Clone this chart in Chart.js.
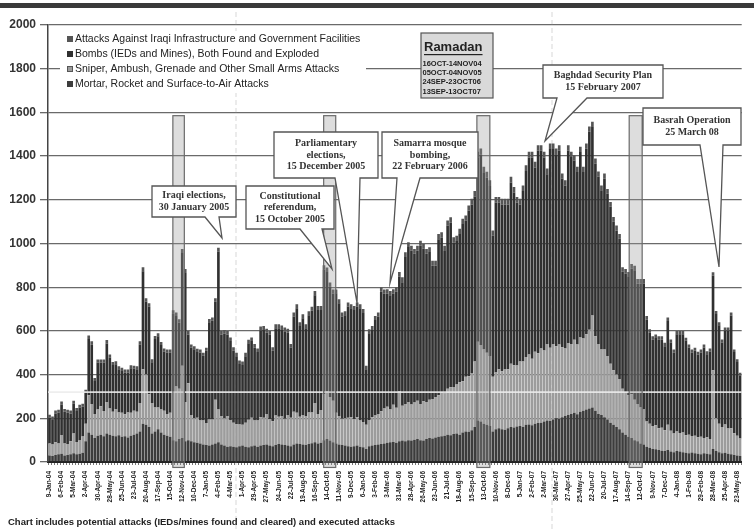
<!DOCTYPE html>
<html>
<head>
<meta charset="utf-8">
<script src="https://cdn.jsdelivr.net/npm/chart.js@4.4.1/dist/chart.umd.min.js"></script>
<style>
  html, body { margin: 0; padding: 0; background: #fff; }
  #wrap { width: 754px; height: 529px; position: relative; }
</style>
</head>
<body>
<div id="wrap"><canvas id="attacks" width="754" height="529"></canvas></div>
<script>
// Etiquetas del eje X (una cada 4 semanas)
const tickLabels = ['9-Jan-04','6-Feb-04','5-Mar-04','2-Apr-04','30-Apr-04','28-May-04','25-Jun-04','23-Jul-04','20-Aug-04','17-Sep-04',
  '15-Oct-04','12-Nov-04','10-Dec-04','7-Jan-05','4-Feb-05','4-Mar-05','1-Apr-05','29-Apr-05','27-May-05','24-Jun-05',
  '22-Jul-05','19-Aug-05','16-Sep-05','14-Oct-05','11-Nov-05','9-Dec-05','6-Jan-06','3-Feb-06','3-Mar-06','31-Mar-06',
  '28-Apr-06','26-May-06','23-Jun-06','21-Jul-06','18-Aug-06','15-Sep-06','13-Oct-06','10-Nov-06','8-Dec-06','5-Jan-07',
  '2-Feb-07','2-Mar-07','30-Mar-07','27-Apr-07','25-May-07','22-Jun-07','20-Jul-07','17-Aug-07','14-Sep-07','12-Oct-07',
  '9-Nov-07','7-Dec-07','4-Jan-08','1-Feb-08','29-Feb-08','28-Mar-08','25-Apr-08','23-May-08'];

const yTicks = [0, 200, 400, 600, 800, 1000, 1200, 1400, 1600, 1800, 2000];

// Ataques semanales por tipo (apilados de abajo hacia arriba)
const mortar = [
  30,28,32,35,38,30,32,35,40,36,  38,42,95,135,125,110,120,125,118,130,
  125,120,118,122,115,118,112,120,125,130,  140,175,170,160,130,140,150,135,125,120,
  115,100,95,105,110,95,100,95,90,88,  85,80,78,75,80,85,90,80,75,70,
  72,70,68,72,75,70,68,72,75,70,  75,78,80,76,72,78,82,80,78,75,
  72,80,85,82,80,78,82,86,90,85,  88,100,105,98,90,85,80,78,75,72,
  70,72,75,70,68,60,72,75,78,80,  82,85,88,90,92,88,95,98,95,100,
  98,102,105,100,98,105,110,108,112,115,  118,120,125,122,128,130,125,135,140,138,
  145,160,190,185,175,170,165,140,150,155,  150,148,155,160,158,162,165,160,170,172,
  168,175,178,180,185,190,188,195,200,198,  205,210,215,220,225,218,230,235,240,245,
  250,235,220,215,205,195,180,170,160,150,  135,125,115,110,100,95,85,80,70,65,
  60,58,55,52,50,55,48,45,50,48,  45,42,40,44,40,38,36,40,38,35,
  60,50,45,40,42,38,35,32,30,28
];

const sniper = [
  55,52,58,50,85,55,50,60,90,55,  60,75,80,170,140,110,120,130,115,145,
  120,110,125,105,110,100,115,105,110,100,  130,250,230,150,140,110,100,105,110,100,
  110,220,250,230,330,180,260,120,110,115,  105,110,100,120,115,200,150,130,125,140,
  120,110,105,100,95,110,125,130,115,120,  130,125,140,120,115,135,125,130,120,140,
  130,150,140,125,135,130,145,140,180,135,  150,210,220,200,190,140,130,120,125,130,
  135,125,130,120,115,110,120,130,135,140,  150,160,165,150,170,160,230,160,170,175,
  165,170,175,165,180,170,175,180,185,190,  200,195,210,220,215,225,240,235,250,255,
  260,300,360,350,340,330,320,250,260,270,  265,275,270,290,285,280,295,300,310,320,
  305,330,320,340,325,350,335,345,330,340,  320,310,330,320,335,320,340,330,345,360,
  420,340,320,300,310,290,270,250,240,230,  200,195,190,200,185,170,165,160,115,110,
  105,110,100,105,95,115,95,85,90,85,  90,80,85,75,80,75,80,70,75,70,
  360,150,130,120,130,115,120,100,90,80
];

const bombs = [
  119,116,132,142,140,145,145,127,138,142,  150,136,142,258,272,151,215,200,222,267,
  233,214,204,197,192,191,182,204,192,194,  267,448,334,401,186,313,325,295,271,281,
  276,358,323,302,517,590,223,309,316,301,  311,296,331,445,452,449,722,374,388,374,
  362,329,311,277,274,304,351,352,334,314,  397,401,372,386,322,399,405,397,399,377,
  322,436,479,415,443,404,445,466,493,476,  458,570,545,504,490,547,517,468,472,510,
  499,499,507,514,499,254,397,399,437,446,  548,525,518,523,509,532,523,565,673,709,
  705,681,688,726,698,678,676,611,602,715,  710,651,746,754,662,657,678,719,714,757,
  774,754,842,872,808,802,778,646,777,762,  764,756,754,829,790,745,719,780,852,902,
  921,843,926,904,884,777,909,892,879,886,  771,745,881,856,820,789,849,762,849,906,
  863,790,766,729,783,743,718,679,660,642,  536,543,545,576,593,552,567,577,467,416,
  395,400,405,403,385,475,404,371,445,452,  450,433,399,382,389,378,385,414,380,401,
  432,477,451,387,429,448,515,371,338,288
];

const infrastructure = [
  12,12,14,12,14,12,12,14,12,14,  14,14,14,16,16,14,14,14,14,16,
  14,14,14,14,14,14,14,14,14,14,  16,18,16,16,14,14,14,14,14,14,
  14,16,16,16,18,18,16,14,14,14,  14,14,14,14,14,16,18,16,16,16,
  16,16,16,16,16,16,16,16,16,16,  18,18,18,18,16,18,18,18,18,18,
  16,18,18,18,18,18,18,18,20,18,  18,20,20,20,20,18,18,18,18,18,
  18,18,18,18,18,16,18,18,18,18,  20,20,20,20,20,20,22,22,22,22,
  22,22,22,22,22,22,22,22,22,24,  24,24,24,24,24,24,24,24,24,24,
  26,26,28,28,28,26,26,24,26,26,  26,26,26,26,26,26,26,26,26,26,
  26,26,26,26,26,26,26,26,26,26,  24,24,24,24,24,24,24,24,24,24,
  24,24,24,22,22,22,22,22,22,22,  20,20,20,20,20,20,20,20,16,16,
  16,16,16,16,16,16,14,14,14,14,  14,14,14,14,14,14,14,14,14,14,
  16,14,14,14,14,14,14,12,12,12
];

// Semanas de Ramadán (índice de semana, inicio y fin)
const ramadanWeeks = [[40.9, 44.7], [90.9, 94.9], [141.7, 146.0], [192.2, 196.5]];
const ramadanText = ['16OCT-14NOV04', '05OCT-04NOV05', '24SEP-23OCT06', '13SEP-13OCT07'];

const seriesNames = [
  'Attacks Against Iraqi Infrastructure and Government Facilities',
  'Bombs (IEDs and Mines), Both Found and Exploded',
  'Sniper, Ambush, Grenade and Other Small Arms Attacks',
  'Mortar, Rocket and Surface-to-Air Attacks'
];
const colors = { infra: '#555555', bombs: '#303030', sniper: '#9c9c9c', mortar: '#3c3c3c' };

// Cajas de anotación: [x, y, ancho, alto], cola: [baseIzq, baseDer, puntaX, puntaY]
const callouts = [
  { lines: ['Iraqi elections,', '30 January 2005'], box: [152, 186, 84, 31], tail: [205, 219, 222, 238] },
  { lines: ['Constitutional', 'referendum,', '15 October 2005'], box: [246, 186, 88, 43], tail: [300, 322, 332, 269] },
  { lines: ['Parliamentary', 'elections,', '15 December 2005'], box: [274, 132, 104, 46], tail: [335, 360, 357, 303] },
  { lines: ['Samarra mosque', 'bombing,', '22 February 2006'], box: [382, 132, 96, 46], tail: [397, 420, 390, 283] },
  { lines: ['Baghdad Security Plan', '15 February 2007'], box: [543, 65, 120, 33], tail: [557, 587, 545, 141] },
  { lines: ['Basrah Operation', '25 March 08'], box: [643, 108, 98, 37], tail: [700, 723, 719, 267] }
];

const weeks = [];
for (let i = 0; i < mortar.length; i++) weeks.push(i % 4 === 0 ? tickLabels[i / 4] : '');

function drawCallout(ctx, c) {
  const [x, y, w, h] = c.box;
  const [b1, b2, tx, ty] = c.tail;
  const bottom = y + h;
  ctx.save();
  ctx.beginPath();
  ctx.moveTo(x, y);
  ctx.lineTo(x + w, y);
  ctx.lineTo(x + w, bottom);
  ctx.lineTo(b2, bottom);
  ctx.lineTo(tx, ty);
  ctx.lineTo(b1, bottom);
  ctx.lineTo(x, bottom);
  ctx.closePath();
  ctx.fillStyle = '#ffffff';
  ctx.fill();
  ctx.strokeStyle = '#555';
  ctx.lineWidth = 1.3;
  ctx.stroke();
  ctx.fillStyle = '#333';
  ctx.font = 'bold 10px "Liberation Serif"';
  ctx.textAlign = 'center';
  ctx.textBaseline = 'middle';
  const n = c.lines.length;
  const mid = y + h / 2;
  c.lines.forEach((t, i) => {
    ctx.fillText(t, x + w / 2, mid + (i - (n - 1) / 2) * 11.5);
  });
  ctx.restore();
}

const decorPlugin = {
  id: 'decor',
  beforeDatasetsDraw(chart) {
    const ctx = chart.ctx;
    ctx.save();
    // pliegues del papel escaneado
    ctx.strokeStyle = 'rgba(140,140,140,0.35)';
    ctx.lineWidth = 1;
    ctx.setLineDash([5, 3]);
    [236, 552].forEach(px => {
      ctx.beginPath(); ctx.moveTo(px, 12); ctx.lineTo(px, 529); ctx.stroke();
    });
    ctx.restore();
  },
  afterDatasetsDraw(chart) {
    const ctx = chart.ctx;
    const xs = chart.scales.x, ys = chart.scales.y;
    const area = chart.chartArea;
    ctx.save();

    // franja clara horizontal del escaneo
    const wy = ys.getPixelForValue(320);
    ctx.strokeStyle = 'rgba(236,236,236,0.9)';
    ctx.lineWidth = 1.6;
    ctx.beginPath(); ctx.moveTo(area.left, wy); ctx.lineTo(area.right, wy); ctx.stroke();

    // bandas de Ramadán
    ramadanWeeks.forEach(([a, b]) => {
      const x1 = xs.getPixelForValue(a), x2 = xs.getPixelForValue(b);
      const y1 = ys.getPixelForValue(1585), y2 = ys.getPixelForValue(-25);
      ctx.fillStyle = 'rgba(153,153,153,0.33)';
      ctx.fillRect(x1, y1, x2 - x1, y2 - y1);
      ctx.strokeStyle = '#6a6a6a';
      ctx.lineWidth = 1.2;
      ctx.strokeRect(x1, y1, x2 - x1, y2 - y1);
    });

    // leyenda
    ctx.fillStyle = '#fff';
    ctx.fillRect(60, 31, 306, 62);
    const legendCols = [colors.infra, colors.bombs, colors.sniper, colors.mortar];
    ctx.font = '10.5px "Liberation Sans"';
    ctx.textBaseline = 'middle';
    ctx.textAlign = 'left';
    seriesNames.forEach((name, i) => {
      const ly = 39 + i * 15;
      ctx.fillStyle = legendCols[i];
      ctx.fillRect(67, ly - 3, 6, 6);
      if (i === 2) { ctx.strokeStyle = '#555'; ctx.lineWidth = 1; ctx.strokeRect(67.5, ly - 2.5, 5, 5); }
      ctx.fillStyle = '#222';
      ctx.fillText(name, 75, ly);
    });

    // recuadro de Ramadán
    ctx.fillStyle = '#d9d9d9';
    ctx.fillRect(421, 33, 72, 65);
    ctx.strokeStyle = '#555';
    ctx.lineWidth = 1.2;
    ctx.strokeRect(421, 33, 72, 65);
    ctx.fillStyle = '#222';
    ctx.font = 'bold 13px "Liberation Sans"';
    ctx.fillText('Ramadan', 424, 47);
    const rw = ctx.measureText('Ramadan').width;
    ctx.fillRect(424, 54, rw, 1.2);
    ctx.font = 'bold 7.5px "Liberation Sans"';
    ramadanText.forEach((t, i) => ctx.fillText(t, 422.5, 63.5 + i * 9.4));

    // llamadas de eventos
    callouts.forEach(c => drawCallout(ctx, c));

    ctx.restore();
  },
  afterDraw(chart) {
    const ctx = chart.ctx;
    ctx.save();
    ctx.fillStyle = '#3a3a3a';
    ctx.fillRect(0, 3, 754, 5);
    ctx.fillStyle = '#222';
    ctx.font = 'bold 9.5px "Liberation Sans"';
    ctx.textBaseline = 'middle';
    ctx.textAlign = 'left';
    ctx.fillText('Chart includes potential attacks (IEDs/mines found and cleared) and executed attacks', 8, 522);
    ctx.restore();
  }
};

const barOpts = { barPercentage: 0.88, categoryPercentage: 1.0, borderWidth: 0 };

new Chart(document.getElementById('attacks').getContext('2d'), {
  type: 'bar',
  data: {
    labels: weeks,
    datasets: [
      { label: seriesNames[3], data: mortar, backgroundColor: colors.mortar, ...barOpts },
      { label: seriesNames[2], data: sniper, backgroundColor: colors.sniper, ...barOpts },
      { label: seriesNames[1], data: bombs, backgroundColor: colors.bombs, ...barOpts },
      { label: seriesNames[0], data: infrastructure, backgroundColor: colors.infra, ...barOpts }
    ]
  },
  options: {
    responsive: false,
    animation: false,
    devicePixelRatio: 1,
    layout: { padding: { top: 25, right: 9, left: 0, bottom: 0 } },
    plugins: { legend: { display: false }, tooltip: { enabled: false } },
    scales: {
      x: {
        stacked: true,
        offset: true,
        grid: { display: true, drawOnChartArea: false, tickLength: 3, color: '#777', lineWidth: 1 },
        border: { display: true, color: '#222', width: 2 },
        ticks: {
          autoSkip: false, maxRotation: 90, minRotation: 90, padding: 6,
          font: { family: 'Liberation Sans', size: 6.5, weight: 'bold' }, color: '#222'
        },
        afterFit: s => { s.height = 67; }
      },
      y: {
        stacked: true,
        min: yTicks[0],
        max: yTicks[yTicks.length - 1],
        afterBuildTicks: s => { s.ticks = yTicks.map(v => ({ value: v })); },
        ticks: {
          padding: 4, color: '#333',
          font: { family: 'Liberation Sans', size: 12, weight: 'bold' },
          callback: v => String(v)
        },
        grid: { color: '#6a6a6a', lineWidth: 1.3, tickLength: 8 },
        border: { color: '#444', width: 1.5 },
        afterFit: s => { s.width = 48; }
      }
    }
  },
  plugins: [decorPlugin]
});
</script>
</body>
</html>
